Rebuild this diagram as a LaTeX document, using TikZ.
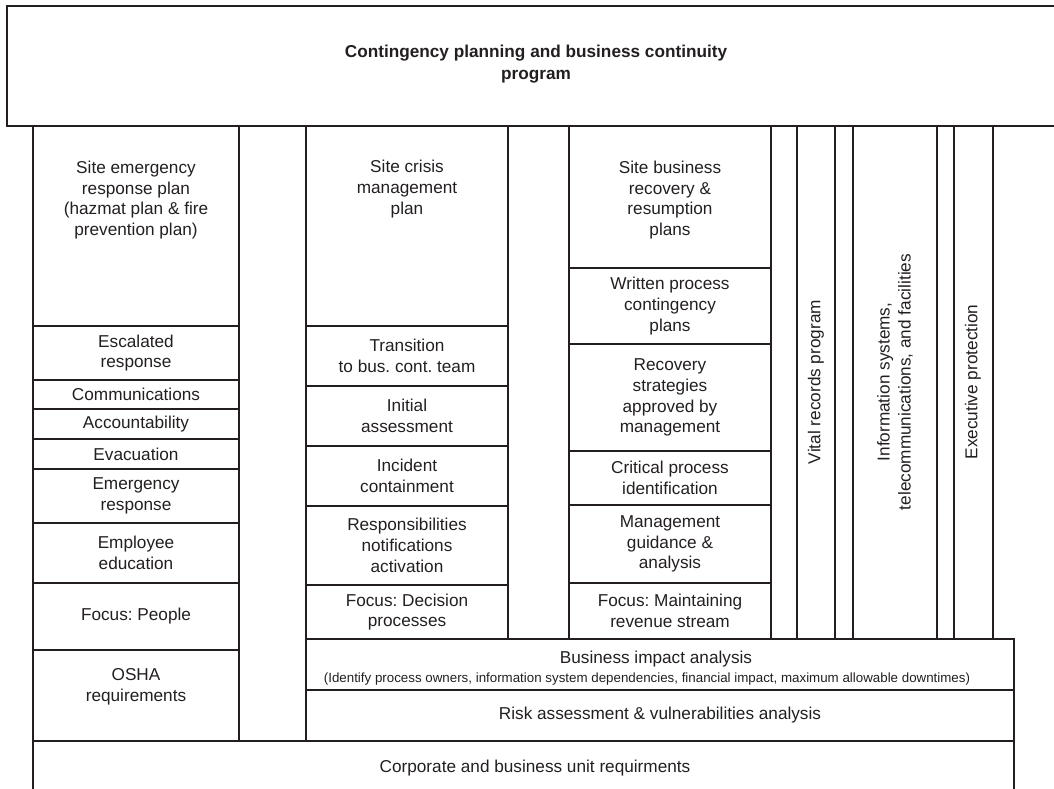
\documentclass[tikz,border=0pt]{standalone}
\usepackage{fontspec}
\setmainfont{Liberation Sans}
\frenchspacing
\definecolor{ink}{RGB}{35,31,32}
\newcommand\mainfs{\fontsize{12.9}{15.6}\selectfont}
\newcommand\titlefs{\fontsize{12.9}{16.5}\selectfont}
\newcommand\smallfs{\fontsize{10}{12}\selectfont}
\tikzset{
  cellbox/.style={draw=ink, line width=1.1pt, inner sep=0pt, outer sep=0pt, align=center, text=ink, font=\mainfs},
  txt/.style={align=center, text=ink, font=\mainfs, inner sep=0pt},
  frameline/.style={draw=ink, line width=1.1pt},
}
\newcommand\cell[6]{\node[cellbox, minimum width={(#4-#2)*0.75pt}, minimum height={(#5-#3)*0.75pt}] (#1) at ({(#2+#4)/2},{(#3+#5)/2}) {#6};}
\begin{document}
\begin{tikzpicture}[x=0.75pt,y=-0.75pt]
\useasboundingbox (0,0) rectangle (1054,789);
% top program box (open on the right)
\coordinate (topTR) at (1062,6);
\coordinate (topTL) at (7,6);
\coordinate (topBL) at (7,126);
\coordinate (topBR) at (1062,126);
\draw[frameline] (topTR) -- (topTL) -- (topBL) -- (topBR);
\node[txt, font=\titlefs\bfseries] (title) at (536,64) {Contingency planning and business continuity\\program};

% left column
\cell{ser}{33}{126}{239}{326}{}
\node[txt] (sertxt) at (136,200) {Site emergency\\response plan\\(hazmat plan \& fire\\prevention plan)};
\cell{esc}{33}{326}{239}{380}{Escalated\\response}
\cell{com}{33}{380}{239}{409}{Communications}
\cell{acc}{33}{409}{239}{439}{Accountability}
\cell{eva}{33}{439}{239}{469}{Evacuation}
\cell{emr}{33}{469}{239}{523}{Emergency\\response}
\cell{edu}{33}{523}{239}{583}{Employee\\education}
\cell{fpe}{33}{583}{239}{650}{Focus: People}
\cell{osh}{33}{650}{239}{741}{}
\node[txt] (oshtxt) at (136,687) {OSHA\\requirements};

% middle column
\cell{scm}{306}{126}{508}{326}{}
\node[txt] (scmtxt) at (407,189) {Site crisis\\management\\plan};
\cell{tra}{306}{326}{508}{386}{Transition\\to bus. cont. team}
\cell{ini}{306}{386}{508}{446}{Initial\\assessment}
\cell{inc}{306}{446}{508}{506}{Incident\\containment}
\cell{rna}{306}{506}{508}{585}{Responsibilities\\notifications\\activation}
\cell{fdp}{306}{585}{508}{639}{Focus: Decision\\processes}

% right column
\cell{sbr}{569}{126}{771}{268}{}
\node[txt] (sbrtxt) at (670,200) {Site business\\recovery \&\\resumption\\plans};
\cell{wpc}{569}{268}{771}{344}{Written process\\contingency\\plans}
\cell{rsa}{569}{344}{771}{451}{Recovery\\strategies\\approved by\\management}
\cell{cpi}{569}{451}{771}{505}{Critical process\\identification}
\cell{mga}{569}{505}{771}{583}{Management\\guidance \&\\analysis}
\cell{fmr}{569}{583}{771}{639}{Focus: Maintaining\\revenue stream}

% vertical strips
\cell{vit}{797}{126}{835}{639}{}
\node[txt, rotate=90] (vittxt) at (816,382) {Vital records program};
\cell{inf}{853}{126}{937}{639}{}
\node[txt, rotate=90] (inftxt) at (895,382) {Information systems,\\telecommunications, and facilities};
\cell{exe}{954}{126}{993}{639}{}
\node[txt, rotate=90] (exetxt) at (973,382) {Executive protection};

% bottom layers
\cell{bia}{306}{639}{1014}{690}{}
\node[txt] (biatxt) at (656,659) {Business impact analysis};
\node[txt, font=\smallfs] (biasub) at (647,679) {(Identify process owners, information system dependencies, financial impact, maximum allowable downtimes)};
\cell{risk}{306}{690}{1014}{741}{Risk assessment \& vulnerabilities analysis}

% corporate base (open at the bottom)
\coordinate (corBL) at (33,797);
\coordinate (corTL) at (33,741);
\coordinate (corTR) at (1014,741);
\coordinate (corBR) at (1014,797);
\draw[frameline] (corBL) -- (corTL) -- (corTR) -- (corBR);
\node[txt] (cortxt) at (535,768) {Corporate and business unit requirments};
\end{tikzpicture}
\end{document}
